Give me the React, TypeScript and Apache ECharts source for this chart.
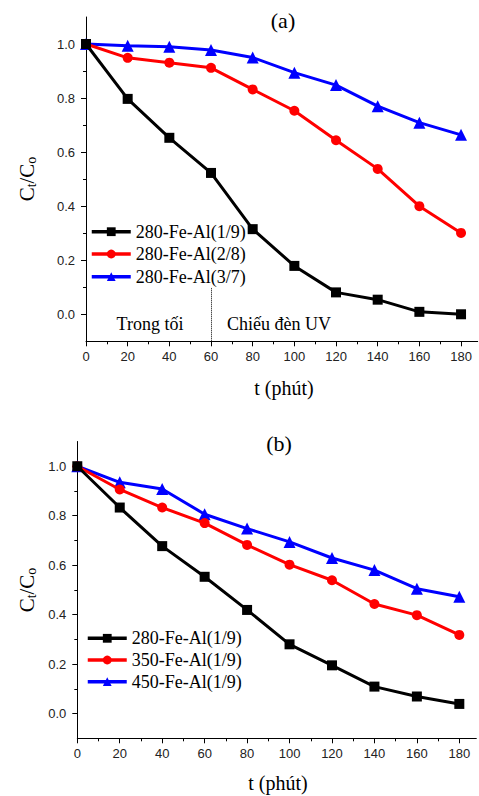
import React, { useEffect, useRef } from "react";
import * as echarts from "echarts";

// ---- data ----
const timeMin = [0, 20, 40, 60, 80, 100, 120, 140, 160, 180];

const namesA = ["280-Fe-Al(1/9)", "280-Fe-Al(2/8)", "280-Fe-Al(3/7)"];
const a19 = [1.0, 0.797, 0.653, 0.523, 0.315, 0.179, 0.081, 0.054, 0.009, 0.0];
const a28 = [1.0, 0.949, 0.931, 0.912, 0.832, 0.753, 0.644, 0.538, 0.4, 0.301];
const a37 = [1.0, 0.994, 0.99, 0.978, 0.95, 0.894, 0.848, 0.77, 0.709, 0.664];

const namesB = ["280-Fe-Al(1/9)", "350-Fe-Al(1/9)", "450-Fe-Al(1/9)"];
const b280 = [1.0, 0.833, 0.677, 0.553, 0.419, 0.28, 0.195, 0.109, 0.069, 0.039];
const b350 = [1.0, 0.906, 0.833, 0.77, 0.682, 0.602, 0.539, 0.443, 0.398, 0.318];
const b450 = [1.0, 0.935, 0.908, 0.806, 0.748, 0.694, 0.629, 0.58, 0.505, 0.472];

const xMajorTicks = [0, 20, 40, 60, 80, 100, 120, 140, 160, 180];
const xMinorTicks = [10, 30, 50, 70, 90, 110, 130, 150, 170];
const yMajorTicks = [0, 0.2, 0.4, 0.6, 0.8, 1.0];
const yMinorTicks = [0.1, 0.3, 0.5, 0.7, 0.9];

const darkPhase = "Trong tối";
const uvPhase = "Chiếu đèn UV";

const SERIF = "'Liberation Serif', 'DejaVu Serif', serif";
const SANS = "'Liberation Sans', Arial, sans-serif";

const colors = ["#000000", "#ff0000", "#0000ff"];
const symbols = ["rect", "circle", "triangle"];
const symSizes = [10, 10, 12];

function pairs(vals: number[]) {
  return timeMin.map((t, i) => [t, vals[i]]);
}

export default function App() {
  const ref = useRef<HTMLDivElement>(null);
  useEffect(() => {
    if (!ref.current) return;
    const chart = echarts.init(ref.current, null, { renderer: "svg" });

    const grids = [
      { left: 86, top: 17, width: 391.7, height: 324.3 },
      { left: 77.3, top: 441.5, width: 399, height: 296.8 },
    ];

    const xAxes: any[] = [];
    const yAxes: any[] = [];
    [0, 1].forEach((g) => {
      xAxes.push({
        type: "value",
        gridIndex: g,
        min: 0,
        max: 188,
        position: "bottom",
        axisLine: { show: true, onZero: false, lineStyle: { color: "#000", width: 1 } },
        axisTick: { show: true, customValues: xMajorTicks, length: 5, lineStyle: { color: "#000" } },
        axisLabel: {
          customValues: xMajorTicks,
          fontFamily: SANS,
          fontSize: 13,
          color: "#222",
          margin: 9,
        },
        splitLine: { show: false },
      });
      xAxes.push({
        type: "value",
        gridIndex: g,
        min: 0,
        max: 188,
        position: "bottom",
        axisLine: { show: false, onZero: false },
        axisTick: { show: true, customValues: xMinorTicks, length: 3, lineStyle: { color: "#000" } },
        axisLabel: { show: false },
        splitLine: { show: false },
      });
      yAxes.push({
        type: "value",
        gridIndex: g,
        min: -0.1,
        max: 1.1,
        position: "left",
        axisLine: { show: true, onZero: false, lineStyle: { color: "#000", width: 1 } },
        axisTick: { show: true, customValues: yMajorTicks, length: 5, lineStyle: { color: "#000" } },
        axisLabel: {
          customValues: yMajorTicks,
          formatter: (v: number) => v.toFixed(1),
          fontFamily: SANS,
          fontSize: 13,
          color: "#222",
          margin: 11,
        },
        splitLine: { show: false },
      });
      yAxes.push({
        type: "value",
        gridIndex: g,
        min: -0.1,
        max: 1.1,
        position: "left",
        axisLine: { show: false, onZero: false },
        axisTick: { show: true, customValues: yMinorTicks, length: 3, lineStyle: { color: "#000" } },
        axisLabel: { show: false },
        splitLine: { show: false },
      });
    });

    const mkSeries = (name: string, vals: number[], k: number, g: number, extra: any = {}) => ({
      type: "line",
      name,
      data: pairs(vals),
      xAxisIndex: g * 2,
      yAxisIndex: g * 2,
      symbol: symbols[k],
      symbolSize: symSizes[k],
      itemStyle: { color: colors[k] },
      lineStyle: { color: colors[k], width: 3 },
      z: 10 - k,
      ...extra,
    });

    const series: any[] = [
      mkSeries(namesA[0], a19, 0, 0, {
        markLine: {
          silent: true,
          symbol: ["none", "none"],
          label: { show: false },
          lineStyle: { color: "#000", type: "dotted", width: 1 },
          data: [[{ coord: [60, -0.1] }, { coord: [60, 0.1] }]],
        },
      }),
      mkSeries(namesA[1], a28, 1, 0),
      mkSeries(namesA[2], a37, 2, 0),
      mkSeries(namesB[0], b280, 0, 1),
      mkSeries(namesB[1], b350, 1, 1),
      mkSeries(namesB[2], b450, 2, 1),
    ];

    const legendTops = [
      [221.7, 244, 266.7],
      [628.3, 650, 671.7],
    ];
    const legendLefts = [90, 86];
    const legends: any[] = [];
    [namesA, namesB].forEach((names, g) => {
      names.forEach((n, i) => {
        legends.push({
          data: [n],
          left: legendLefts[g],
          top: legendTops[g][i],
          orient: "vertical",
          padding: 0,
          itemWidth: 39,
          itemHeight: 11,
          selectedMode: false,
          lineStyle: { width: 3.5 },
          textStyle: { fontFamily: SERIF, fontSize: 18, color: "#000", lineHeight: 20 },
        });
      });
    });

    const yName = (x: number, y: number) => ({
      type: "text",
      x,
      y,
      rotation: Math.PI / 2,
      style: {
        text: "{n|C}{s|t}{n|/C}{s|o}",
        textAlign: "center",
        textVerticalAlign: "middle",
        rich: {
          n: { fontFamily: SERIF, fontSize: 21, lineHeight: 22, fill: "#000" },
          s: { fontFamily: SERIF, fontSize: 14, lineHeight: 6, verticalAlign: "bottom", fill: "#000" },
        },
      },
    });
    const txt = (text: string, x: number, y: number, size: number) => ({
      type: "text",
      x,
      y,
      style: {
        text,
        fontFamily: SERIF,
        fontSize: size,
        fill: "#000",
        textAlign: "center",
        textVerticalAlign: "middle",
      },
    });

    chart.setOption({
      animation: false,
      backgroundColor: "#fff",
      grid: grids,
      xAxis: xAxes,
      yAxis: yAxes,
      legend: legends,
      series,
      graphic: [
        txt("(a)", 283, 20, 22),
        txt("(b)", 279, 443, 22),
        txt("t (phút)", 284, 388, 20),
        txt("t (phút)", 278, 783, 20),
        txt(darkPhase, 150, 324, 18),
        txt(uvPhase, 279, 324, 18),
        yName(27, 179),
        yName(27, 590),
      ],
    });
    return () => chart.dispose();
  }, []);
  return (
    <div
      ref={ref}
      style={{ position: "absolute", left: 0, top: 0, width: 479, height: 796 }}
    />
  );
}
